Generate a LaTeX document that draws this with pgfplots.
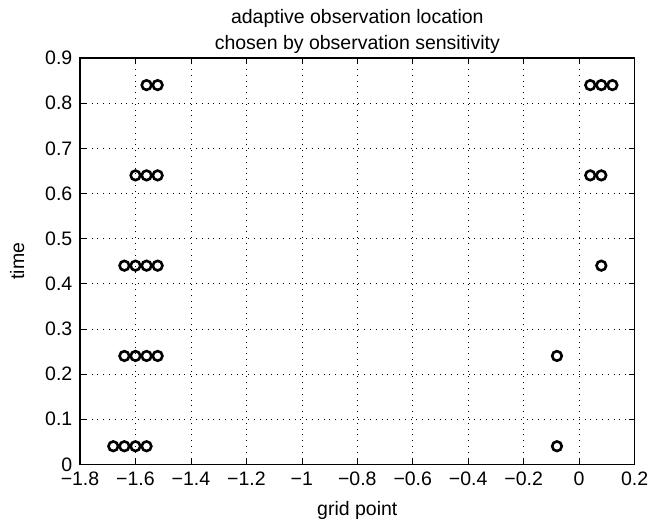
\documentclass[border=0pt]{standalone}
\usepackage{fontspec}
\setmainfont{Liberation Sans}
\usepackage{pgfplots}
\pgfplotsset{compat=1.18}
\begin{document}
\fontsize{19.5}{25}\selectfont
\begin{tikzpicture}
\path[use as bounding box] (-80pt,-62.7pt) rectangle (569pt,464.3pt);
\begin{axis}[
  at={(0pt,0pt)}, anchor=south west,
  scale only axis, width=554.6pt, height=406.3pt,
  xmin=-1.8, xmax=0.2, ymin=0, ymax=0.9,
  xtick={-1.8,-1.6,-1.4,-1.2,-1,-0.8,-0.6,-0.4,-0.2,0,0.2},
  xticklabels={−1.8,−1.6,−1.4,−1.2,−1,−0.8,−0.6,−0.4,−0.2,0,0.2},
  ytick={0,0.1,0.2,0.3,0.4,0.5,0.6,0.7,0.8,0.9},
  yticklabels={0,0.1,0.2,0.3,0.4,0.5,0.6,0.7,0.8,0.9},
  tick align=inside, major tick length=6pt,
  xtick pos=both, ytick pos=both,
  tick style={black, line width=0.6pt},
  axis line style={black, line width=1.2pt},
  grid=major,
  major grid style={black, line width=0.6pt, dash pattern=on 0.8pt off 5pt},
  tick label style={font=\fontsize{19.5}{24}\selectfont},
  x tick label style={yshift=-1pt},
  y tick label style={xshift=-1pt},
  label style={font=\fontsize{19.5}{24}\selectfont},
  xlabel={grid point}, ylabel={time},
  every axis x label/.style={at={(rel axis cs:0.5,-0.113)}, anchor=center},
  every axis y label/.style={at={(rel axis cs:-0.1135,0.5)}, rotate=90, anchor=center},
  title={adaptive observation location\\chosen by observation sensitivity},
  title style={at={(rel axis cs:0.5,1.050)}, anchor=center, align=center, font=\fontsize{19.5}{26}\selectfont},
]
\addplot[only marks, mark=o, mark size=4.8pt, mark options={black, line width=2.6pt}] coordinates {
  (-1.68,0.04) (-1.64,0.04) (-1.60,0.04) (-1.56,0.04) (-0.08,0.04)
  (-1.64,0.24) (-1.60,0.24) (-1.56,0.24) (-1.52,0.24) (-0.08,0.24)
  (-1.64,0.44) (-1.60,0.44) (-1.56,0.44) (-1.52,0.44) (0.08,0.44)
  (-1.60,0.64) (-1.56,0.64) (-1.52,0.64) (0.04,0.64) (0.08,0.64)
  (-1.56,0.84) (-1.52,0.84) (0.04,0.84) (0.08,0.84) (0.12,0.84)
};
\end{axis}
\end{tikzpicture}
\end{document}
